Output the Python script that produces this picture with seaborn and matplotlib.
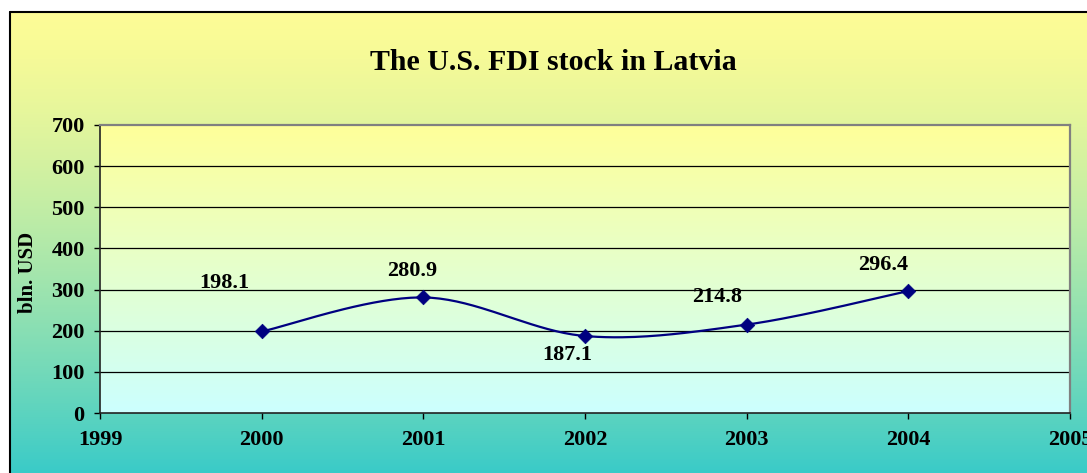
import numpy as np
import pandas as pd
import matplotlib
matplotlib.use("Agg")
import matplotlib.pyplot as plt
from matplotlib.lines import Line2D
import seaborn as sns

# Daten
years = [2000, 2001, 2002, 2003, 2004]
values = [198.1, 280.9, 187.1, 214.8, 296.4]
value_labels = ["198.1", "280.9", "187.1", "214.8", "296.4"]
x_ticks = [1999, 2000, 2001, 2002, 2003, 2004, 2005]
y_ticks = [0, 100, 200, 300, 400, 500, 600, 700]

# Offsets der Datenbeschriftungen (in Punkten)
label_offsets = [(-27, 35), (-8, 19), (-13, -14), (-21, 20), (-18, 19)]

sns.set_style("ticks")
plt.rcParams["font.family"] = ["Liberation Serif", "DejaVu Serif"]
plt.rcParams["font.weight"] = "bold"
plt.rcParams["text.color"] = "black"
plt.rcParams["xtick.color"] = "black"
plt.rcParams["ytick.color"] = "black"


def smooth_curve(xs, ys, n=40):
    # Excel-artige Glaettung (Catmull-Rom als Bezier)
    pts = np.column_stack([xs, ys]).astype(float)
    ext = np.vstack([pts[0], pts, pts[-1]])
    out = []
    for i in range(len(pts) - 1):
        p0, p1, p2, p3 = ext[i], ext[i + 1], ext[i + 2], ext[i + 3]
        c1 = p1 + (p2 - p0) / 6
        c2 = p2 - (p3 - p1) / 6
        t = np.linspace(0, 1, n)[:, None]
        seg = (1 - t) ** 3 * p1 + 3 * (1 - t) ** 2 * t * c1 + 3 * (1 - t) * t ** 2 * c2 + t ** 3 * p2
        out.append(seg if i == 0 else seg[1:])
    out = np.vstack(out)
    return out[:, 0], out[:, 1]


fig = plt.figure(figsize=(10.87, 4.73), dpi=100)
fig.patch.set_facecolor("white")

# Hintergrund mit Verlauf
W, H = 1087, 473
bg = fig.add_axes([10 / W, 0, 1 - 10 / W, (H - 12) / H], zorder=-10)
t = np.linspace(0, 1, 256) ** 1.4
top = np.array([253, 252, 150]) / 255
bottom = np.array([58, 203, 200]) / 255
grad = (top[None, :] * (1 - t[:, None]) + bottom[None, :] * t[:, None])[:, None, :]
bg.imshow(grad, aspect="auto", extent=[0, 1, 0, 1])
bg.set_axis_off()
fig.add_artist(Line2D([10 / W, 10 / W], [0, (H - 12) / H], color="black", lw=1.5))
fig.add_artist(Line2D([10 / W, 1], [(H - 12) / H, (H - 12) / H], color="black", lw=1.5))

ax = fig.add_axes([100 / W, (H - 413) / H, 970 / W, 288 / H])

# Verlauf im Plotbereich
t2 = np.linspace(0, 1, 256)
ptop = np.array([255, 255, 153]) / 255
pbot = np.array([204, 255, 255]) / 255
pgrad = (ptop[None, :] * (1 - t2[:, None]) + pbot[None, :] * t2[:, None])[:, None, :]
ax.imshow(pgrad, aspect="auto", extent=[1999, 2005, 0, 700], zorder=0)
ax.set_xlim(1999, 2005)
ax.set_ylim(0, 700)

for y in y_ticks[1:-1]:
    ax.axhline(y, color="black", lw=0.9, zorder=1)

sx, sy = smooth_curve(years, values)
curve = pd.DataFrame({"x": sx, "y": sy})
sns.lineplot(data=curve, x="x", y="y", sort=False, color="#000080", lw=1.6, ax=ax, zorder=3)
df = pd.DataFrame({"Jahr": years, "Wert": values})
sns.scatterplot(data=df, x="Jahr", y="Wert", marker="D", s=55, color="#000080",
                edgecolor="#000080", linewidth=0.5, ax=ax, zorder=4)

for xv, yv, lab, off in zip(years, values, value_labels, label_offsets):
    ax.annotate(lab, (xv, yv), xytext=off, textcoords="offset points",
                ha="center", va="center", fontsize=16, fontweight="bold", color="black")

ax.set_xticks(x_ticks)
ax.set_yticks(y_ticks)
ax.set_xticklabels([str(v) for v in x_ticks], fontsize=16, fontweight="bold")
ax.set_yticklabels([str(v) for v in y_ticks], fontsize=16, fontweight="bold")
ax.tick_params(axis="y", direction="out", length=4, width=1, pad=7, colors="black")
ax.tick_params(axis="x", direction="out", length=4, width=1, pad=8, colors="black")
ax.set_xlabel("")
ax.set_ylabel("")

for side in ["top", "right"]:
    ax.spines[side].set_visible(True)
    ax.spines[side].set_color("#808080")
    ax.spines[side].set_linewidth(1.6)
for side in ["left", "bottom"]:
    ax.spines[side].set_color("#222222")
    ax.spines[side].set_linewidth(1.2)

fig.text(553 / W, 1 - 62 / H, "The U.S. FDI stock in Latvia", ha="center", va="center",
         fontsize=21.5, fontweight="bold", color="black")
fig.text(28 / W, 1 - 272 / H, "bln. USD", ha="center", va="center", rotation=90,
         fontsize=15, fontweight="bold", color="black")

fig.savefig("out.png", dpi=100)
